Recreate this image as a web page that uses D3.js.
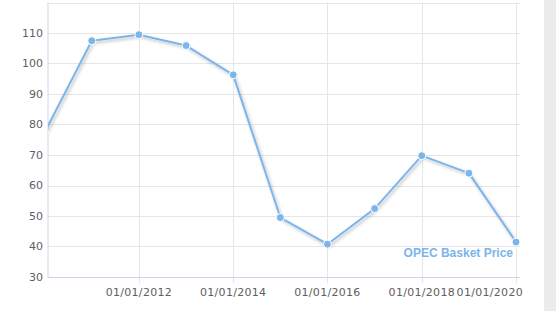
<!DOCTYPE html>
<html>
<head>
<meta charset="utf-8">
<script src="https://cdn.jsdelivr.net/npm/d3@7"></script>
<style>
  body { margin: 0; background: #fff; }
  svg { display: block; }
</style>
</head>
<body>
<svg id="chart" width="556" height="311"></svg>
<script>
// yearly averages, OPEC basket
const years = ["2010", "2011", "2012", "2013", "2014", "2015", "2016", "2017", "2018", "2019", "2020"];
const prices = [77.45, 107.46, 109.45, 105.87, 96.29, 49.49, 40.76, 52.43, 69.78, 64.04, 41.47];
const yTickLabels = [30, 40, 50, 60, 70, 80, 90, 100, 110];
const yGrid = [30, 40, 50, 60, 70, 80, 90, 100, 110, 120];
const xTickLabels = ["01/01/2012", "01/01/2014", "01/01/2016", "01/01/2018", "01/01/2020"];
const seriesName = "OPEC Basket Price";

const parse = d3.timeParse("%Y");
const parseTick = d3.timeParse("%m/%d/%Y");
const data = years.map((y, i) => ({date: parse(y), value: prices[i]}));

const svg = d3.select("#chart");
const color = "#7cb5ec";

// grey strip on the right edge
svg.append("rect")
    .attr("x", 544).attr("y", 0)
    .attr("width", 12).attr("height", 311)
    .attr("fill", "#ececec");

const plotLeft = 47.5, plotRight = 520, plotTop = 2.5, plotBottom = 277;
const labelLimit = 523; // x labels are pushed left so they end before this

const x = d3.scaleTime()
    .domain([new Date(2010, 0, 23), new Date(2020, 1, 1)])
    .range([plotLeft, plotRight]);

const y = d3.scaleLinear()
    .domain([30, 120])
    .range([plotBottom, plotTop]);

// horizontal grid
svg.append("g")
    .selectAll("line")
    .data(yGrid)
    .join("line")
    .attr("x1", plotLeft).attr("x2", plotRight)
    .attr("y1", d => Math.round(y(d)) + 0.5)
    .attr("y2", d => Math.round(y(d)) + 0.5)
    .attr("stroke", "#e6e6e6");

// vertical grid
svg.append("g")
    .selectAll("line")
    .data(xTickLabels)
    .join("line")
    .attr("x1", d => Math.round(x(parseTick(d))) + 0.5)
    .attr("x2", d => Math.round(x(parseTick(d))) + 0.5)
    .attr("y1", plotTop).attr("y2", plotBottom + 6)
    .attr("stroke", "#e6e6e6");

// axis lines
svg.append("line")
    .attr("x1", plotLeft + 0.5).attr("x2", plotLeft + 0.5)
    .attr("y1", plotTop).attr("y2", plotBottom + 0.5)
    .attr("stroke", "#ccd6eb");
svg.append("line")
    .attr("x1", plotLeft).attr("x2", plotRight)
    .attr("y1", Math.round(y(30)) + 0.5).attr("y2", Math.round(y(30)) + 0.5)
    .attr("stroke", "#ccd6eb");

// y labels
svg.append("g")
    .selectAll("text")
    .data(yTickLabels)
    .join("text")
    .attr("x", 43)
    .attr("y", d => y(d))
    .attr("dy", "0.35em")
    .attr("text-anchor", "end")
    .attr("font-family", "DejaVu Sans, sans-serif")
    .attr("font-size", 11)
    .attr("fill", "#606060")
    .text(d => d);

// x labels
svg.append("g")
    .selectAll("text")
    .data(xTickLabels)
    .join("text")
    .attr("x", d => x(parseTick(d)))
    .attr("y", 292)
    .attr("dy", "0.35em")
    .attr("text-anchor", "middle")
    .attr("font-family", "DejaVu Sans, sans-serif")
    .attr("font-size", 11)
    .attr("letter-spacing", 0.3)
    .attr("fill", "#606060")
    .text(d => d)
    .each(function(d) {
        // keep the label inside the chart
        let w = this.getComputedTextLength();
        let cx = x(parseTick(d));
        if (cx + w / 2 > labelLimit) {
            d3.select(this).attr("x", labelLimit - w / 2);
        }
    });

// shadow + clip
const defs = svg.append("defs");
defs.append("clipPath").attr("id", "plot")
    .append("rect")
    .attr("x", plotLeft + 0.5).attr("y", 0)
    .attr("width", plotRight - plotLeft + 10).attr("height", plotBottom + 10);
defs.append("filter").attr("id", "shadow")
    .attr("x", "-10%").attr("y", "-10%").attr("width", "120%").attr("height", "120%")
    .append("feDropShadow")
    .attr("dx", 1.5).attr("dy", 2)
    .attr("stdDeviation", 1.5)
    .attr("flood-color", "#000")
    .attr("flood-opacity", 0.25);

const line = d3.line()
    .x(d => x(d.date))
    .y(d => y(d.value));

const g = svg.append("g").attr("clip-path", "url(#plot)");

g.append("path")
    .datum(data)
    .attr("d", line)
    .attr("fill", "none")
    .attr("stroke", color)
    .attr("stroke-width", 2)
    .attr("stroke-linejoin", "round")
    .attr("filter", "url(#shadow)");

g.selectAll("circle")
    .data(data)
    .join("circle")
    .attr("cx", d => x(d.date))
    .attr("cy", d => y(d.value))
    .attr("r", 4)
    .attr("fill", color)
    .attr("stroke", "#fff")
    .attr("stroke-width", 1);

// series label
svg.append("text")
    .attr("x", 513)
    .attr("y", 253)
    .attr("dy", "0.35em")
    .attr("text-anchor", "end")
    .attr("font-family", "Liberation Sans, Arial, sans-serif")
    .attr("font-weight", "bold")
    .attr("font-size", 12)
    .attr("fill", color)
    .text(seriesName);
</script>
</body>
</html>
